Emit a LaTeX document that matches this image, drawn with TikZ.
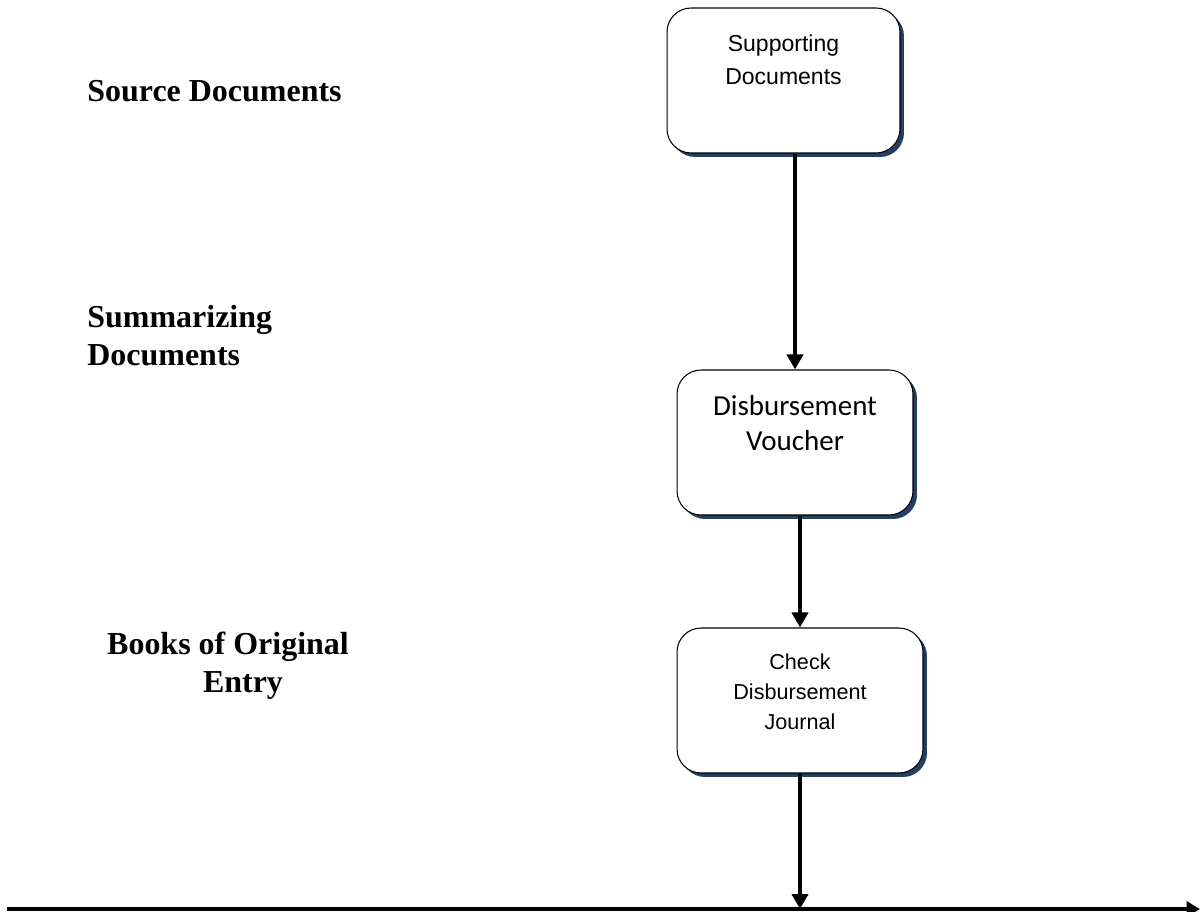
\documentclass[tikz,border=0pt]{standalone}
\usepackage{fontspec}
\setmainfont{Liberation Serif}
\newfontfamily\arialfont{Liberation Sans}
\newfontfamily\calibrifont{Carlito}
\usetikzlibrary{arrows.meta,shadows}
\definecolor{ombra}{HTML}{243F60}
\tikzset{
  riquadro/.style={draw, line width=0.6pt, rounded corners=0.48cm, fill=white,
    drop shadow={shadow xshift=0.08cm, shadow yshift=-0.08cm, fill=ombra, opacity=1},
    align=center, inner xsep=0pt, inner ysep=0pt},
  freccia/.style={line width=2.3pt, -{Triangle[length=0.3cm,width=0.32cm]}},
  titolo/.style={font=\bfseries\fontsize{18.2}{21.1}\selectfont, inner sep=0pt}
}
\begin{document}
\begin{tikzpicture}[x=0.02cm,y=-0.02cm]
    \useasboundingbox (0,0) rectangle (1200,912);
    % Titoli a sinistra
    \node[titolo, anchor=base west] (sorgenti) at (87,102) {Source Documents};
    \node[titolo, anchor=base west, align=left] (riassunti) at (87,365) {Summarizing\\Documents};
    \node[titolo, anchor=base, align=center] (libri) at (228,692) {Books of Original\\\hspace*{0.6cm}Entry};
    % Riquadri
    \node[riquadro, minimum width=4.66cm, text height=1.54cm, text depth=1.36cm,
      font=\arialfont\fontsize{13.1}{18.8}\selectfont] (supporto) at (783.5,80.5) {Supporting\\Documents};
    \node[riquadro, minimum width=4.72cm, text height=1.6cm, text depth=1.3cm,
      font=\calibrifont\fontsize{16.5}{19.9}\selectfont] (voucher) at (795,442.5) {Disbursement\\Voucher};
    \node[riquadro, minimum width=4.92cm, text height=2.04cm, text depth=0.86cm,
      font=\arialfont\fontsize{12.3}{17.1}\selectfont] (giornale) at (800,700.5) {Check\\Disbursement\\Journal};
    % Asse orizzontale
    \coordinate (asseO) at (7,909);
    \coordinate (asseE) at (1200,909);
    \draw[line width=2.3pt, -{Triangle[length=0.27cm,width=0.3cm]}] (asseO) -- (asseE);
    % Frecce
    \draw[freccia] (supporto.south -| voucher.north) -- (voucher.north);
    \draw[freccia] (voucher.south -| giornale.north) -- (giornale.north);
    \draw[freccia] (giornale.south) -- (giornale.south |- asseO);
\end{tikzpicture}
\end{document}
